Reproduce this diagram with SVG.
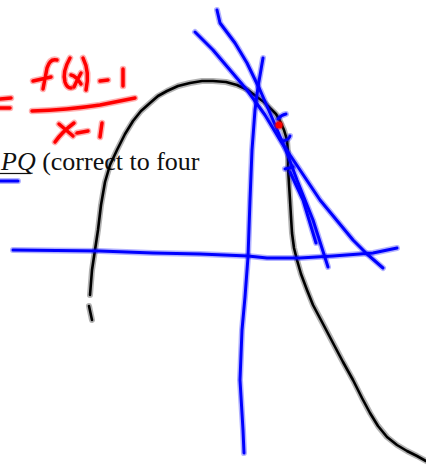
<svg xmlns="http://www.w3.org/2000/svg" width="426" height="465" viewBox="0 0 426 465">
<style>
.halo-b{fill:none;stroke:#0000ff;stroke-opacity:0.3;stroke-width:6;stroke-linecap:round;stroke-linejoin:round}
.blue{fill:none;stroke:#0000ff;stroke-width:3;stroke-linecap:round;stroke-linejoin:round}
.halo-k{fill:none;stroke:#000;stroke-opacity:0.3;stroke-width:6;stroke-linecap:round;stroke-linejoin:round}
.black{fill:none;stroke:#000;stroke-width:2.6;stroke-linecap:round;stroke-linejoin:round}
.halo-r{fill:none;stroke:#ff0000;stroke-opacity:0.3;stroke-width:6.5;stroke-linecap:round;stroke-linejoin:round}
.red{fill:none;stroke:#ff0000;stroke-width:3.5;stroke-linecap:round;stroke-linejoin:round}
.txt{font-family:"Liberation Serif","Times New Roman",serif;font-size:26px;fill:#111}
</style>
<rect width="426" height="465" fill="#fff"/>
<g id="text">
<text class="txt" x="1" y="170"><tspan font-style="italic">PQ</tspan> (correct to four</text>
<line x1="0" y1="173.5" x2="31" y2="173.5" stroke="#111" stroke-width="1.2"/>
</g>
<g id="red-notes">
<g class="halo-r">
<path d="M0,99 L11,98 M0,108 L10,108"/>
<path d="M57,60 Q50,58 47,68 L43,89 M33,81 L51,77"/>
<path d="M70,58 Q62,72 65,82 Q67,88 71,88"/>
<path d="M71,75 Q76,76 81,84 M81,73 Q77,80 74,87"/>
<path d="M83,58 Q90,72 86,90"/>
<path d="M100,81 L108,80"/>
<path d="M123,69 L123,86"/>
<path d="M32,111 Q67,110 100,105 Q120,101 135,98"/>
<path d="M59,124 Q66,130 73,136 M74,123 Q62,132 55,142"/>
<path d="M77,133 L88,131"/>
<path d="M102,123 L100,137"/>
</g>
<g class="red">
<path d="M0,99 L11,98 M0,108 L10,108"/>
<path d="M57,60 Q50,58 47,68 L43,89 M33,81 L51,77"/>
<path d="M70,58 Q62,72 65,82 Q67,88 71,88"/>
<path d="M71,75 Q76,76 81,84 M81,73 Q77,80 74,87"/>
<path d="M83,58 Q90,72 86,90"/>
<path d="M100,81 L108,80"/>
<path d="M123,69 L123,86"/>
<path d="M32,111 Q67,110 100,105 Q120,101 135,98"/>
<path d="M59,124 Q66,130 73,136 M74,123 Q62,132 55,142"/>
<path d="M77,133 L88,131"/>
<path d="M102,123 L100,137"/>
</g>
</g>
<g id="curve">
<g class="halo-k">
<polyline points="90,295 92,270 95,250 98,230 101,205 105,182 110,165 117,150 125,134 133,121 141,111 150,103 158,96 167,91 178,86 190,83 202,81 213,81 226,82 237,85 248,90 257,97 264,102 270,108 276,114 280,121 284,130 287,140 288,153 288,167 289,184 290,200 291,217 292,233 294,248 297,260 301,274 307,290 313,305 322,322 333,343 343,362 353,380 362,398 370,413 378,426 387,437 397,445 407,451 417,456 426,461"/>
<path d="M89,306 L92,320"/>
</g>
<g class="black">
<polyline points="90,295 92,270 95,250 98,230 101,205 105,182 110,165 117,150 125,134 133,121 141,111 150,103 158,96 167,91 178,86 190,83 202,81 213,81 226,82 237,85 248,90 257,97 264,102 270,108 276,114 280,121 284,130 287,140 288,153 288,167 289,184 290,200 291,217 292,233 294,248 297,260 301,274 307,290 313,305 322,322 333,343 343,362 353,380 362,398 370,413 378,426 387,437 397,445 407,451 417,456 426,461"/>
<path d="M89,306 L92,320"/>
</g>
</g>
<g id="lines">
<g class="halo-b">
<polyline points="13,250 100,251 153,253 200,254 248,256 267,258 300,258 333,256 373,253 397,248"/>
<polyline points="263,58 258,87 255,110 252,150 250,200 248,257 245,297 242,330 240,380 243,430 244,453"/>
<polyline points="195,32 213,50 230,70 247,90 265,115 280,140 300,170 320,200 353,240 367,254 383,268"/>
<polyline points="217,10 220,23 235,43 247,63 260,90 273,120 287,153 297,180 313,220 328,267"/>
<polyline points="290,172 303,200 316,243"/>
<path d="M0,181 L18,181"/>
<path d="M278,119 Q281,115 286,114"/>
<path d="M283,141 Q289,140 290,136"/>
<path d="M285,169 L293,167"/>
</g>
<g class="blue">
<polyline points="13,250 100,251 153,253 200,254 248,256 267,258 300,258 333,256 373,253 397,248"/>
<polyline points="263,58 258,87 255,110 252,150 250,200 248,257 245,297 242,330 240,380 243,430 244,453"/>
<polyline points="195,32 213,50 230,70 247,90 265,115 280,140 300,170 320,200 353,240 367,254 383,268"/>
<polyline points="217,10 220,23 235,43 247,63 260,90 273,120 287,153 297,180 313,220 328,267"/>
<polyline points="290,172 303,200 316,243"/>
<path d="M0,181 L18,181"/>
<path d="M278,119 Q281,115 286,114"/>
<path d="M283,141 Q289,140 290,136"/>
<path d="M285,169 L293,167"/>
</g>
</g>
<g id="point">
<circle cx="279" cy="125" r="5" fill="#ff0000" fill-opacity="0.35"/>
<circle cx="279" cy="125" r="3.5" fill="#ff0000"/>
</g>
</svg>
